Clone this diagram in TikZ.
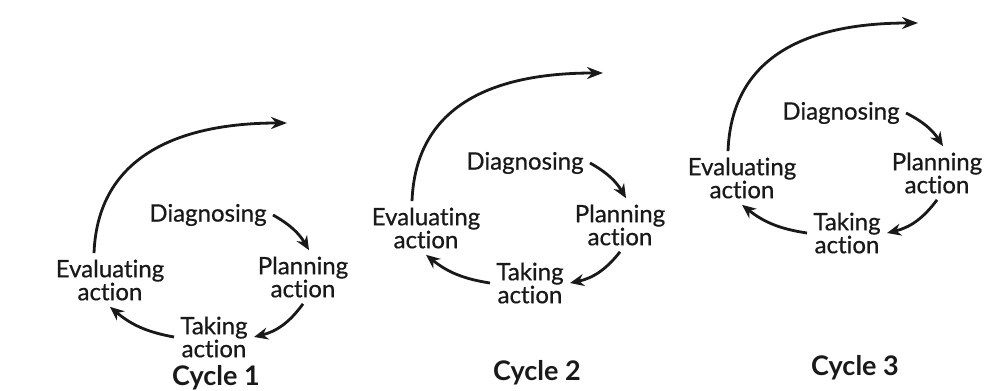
\documentclass[tikz,border=0pt]{standalone}
\usepackage{fontspec}
\setmainfont{Lato}[Ligatures=NoCommon]
\newfontface\lblfont{Lato}[Ligatures=NoCommon, FakeBold=0.6]
\usepackage{tikz}
\usetikzlibrary{arrows.meta}
\tikzset{
  lbl/.style={align=center, font=\lblfont\fontsize{12}{11.5}\selectfont, text=black!90, inner sep=3pt},
  cyc/.style={font=\fontsize{13.5}{14}\selectfont\bfseries, text=black!90},
  arr/.style={-{Stealth[length=7pt, width=6pt]}, line width=1.4pt, black!90},
  bigarr/.style={-{Stealth[length=8pt, width=6pt]}, line width=1.4pt, black!90},
}
\begin{document}
\begin{tikzpicture}[x=0.5pt, y=-0.5pt]
  \useasboundingbox (0,0) rectangle (1004,390);
  % cycle 1
  \node[lbl] (e1) at (110,280) {Evaluating\\action};
  \node[lbl] (d1) at (208,215) {Diagnosing};
  \node[lbl] (p1) at (303,277) {Planning\\action};
  \node[lbl] (t1) at (214,337) {Taking\\action};
  \node[cyc] (c1) at (216,378) {Cycle 1};
  \coordinate (n1) at (287,123);
  \draw[arr] (d1.east) to[bend left=15] ([xshift=3pt]p1.north);
  \draw[arr] (p1.south) to[bend left=20] (t1.east);
  \draw[arr] (t1.west) to[bend left=15] (e1.south);
  \draw[bigarr] ([xshift=-8pt]e1.north) .. controls +(4,-105) and +(-95,0) .. (n1);
  % cycle 2
  \node[lbl] (e2) at (426,228) {Evaluating\\action};
  \node[lbl] (d2) at (525,163) {Diagnosing};
  \node[lbl] (p2) at (620,225) {Planning\\action};
  \node[lbl] (t2) at (530,283) {Taking\\action};
  \node[cyc] (c2) at (537,373) {Cycle 2};
  \coordinate (n2) at (603,73);
  \draw[arr] (d2.east) to[bend left=15] ([xshift=3pt]p2.north);
  \draw[arr] (p2.south) to[bend left=20] (t2.east);
  \draw[arr] (t2.west) to[bend left=15] (e2.south);
  \draw[bigarr] ([xshift=-7pt]e2.north) .. controls +(4,-105) and +(-95,0) .. (n2);
  % cycle 3
  \node[lbl] (e3) at (742,178) {Evaluating\\action};
  \node[lbl] (d3) at (841,113) {Diagnosing};
  \node[lbl] (p3) at (937,173) {Planning\\action};
  \node[lbl] (t3) at (847,233) {Taking\\action};
  \node[cyc] (c3) at (855,368) {Cycle 3};
  \coordinate (n3) at (918,23);
  \draw[arr] (d3.east) to[bend left=15] ([xshift=3pt]p3.north);
  \draw[arr] (p3.south) to[bend left=20] (t3.east);
  \draw[arr] (t3.west) to[bend left=15] (e3.south);
  \draw[bigarr] ([xshift=-7pt]e3.north) .. controls +(4,-105) and +(-95,0) .. (n3);
\end{tikzpicture}
\end{document}
